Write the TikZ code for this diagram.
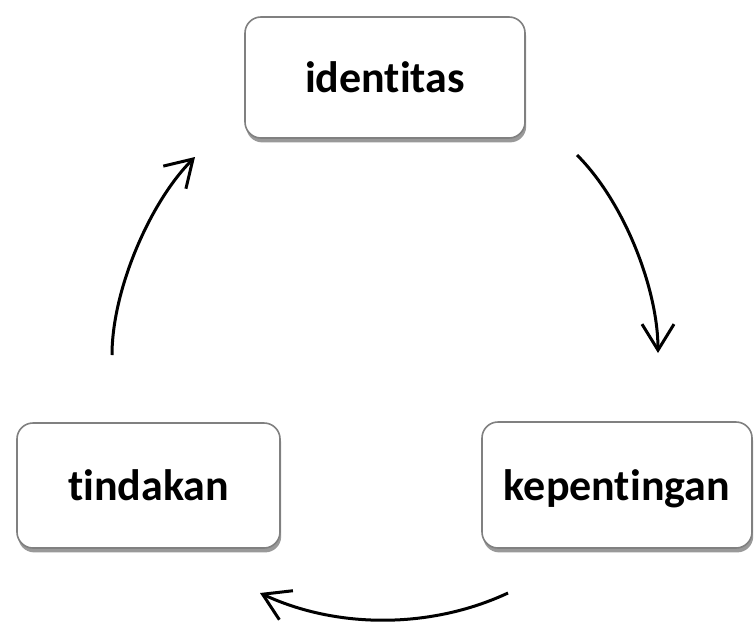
\documentclass[tikz,border=0pt]{standalone}
\usepackage{fontspec}
\setmainfont{Carlito}[Ligatures=NoCommon]
\usetikzlibrary{arrows.meta,shadows}

\begin{document}
\begin{tikzpicture}[x=.5pt, y=-.5pt,
    box/.style={draw=gray, line width=.8pt, fill=white, rounded corners=8pt, inner sep=0pt, text depth=0pt,
        drop shadow={shadow xshift=.6pt, shadow yshift=-2.2pt, fill=black, opacity=.4},
        font=\fontsize{22}{26}\selectfont\bfseries},
    arr/.style={line width=1.5pt, -{Straight Barb[length=13pt,width=16pt]}}]
    \useasboundingbox (0,0) rectangle (754,621);

    \node[box, minimum width=140pt, minimum height=60.5pt] (identitas) at (385,77.5) {identitas};
    \node[box, minimum width=131.5pt, minimum height=62.5pt] (tindakan) at (148.5,485.5) {tindakan};
    \node[box, minimum width=135pt, minimum height=63pt] (kepentingan) at (617,485) {kepentingan};

    \coordinate (r1) at (577,155);
    \coordinate (r2) at (658,353);
    \coordinate (b1) at (508,593);
    \coordinate (b2) at (260,593);
    \coordinate (l1) at (112,355);
    \coordinate (l2) at (195,157);

    \draw[arr] (r1) .. controls (625,203) and (658,290) .. (r2);
    \draw[arr] (b1) .. controls (431,629) and (337,629) .. (b2);
    \draw[arr] (l1) .. controls (112,290) and (150,202) .. (l2);
\end{tikzpicture}
\end{document}
